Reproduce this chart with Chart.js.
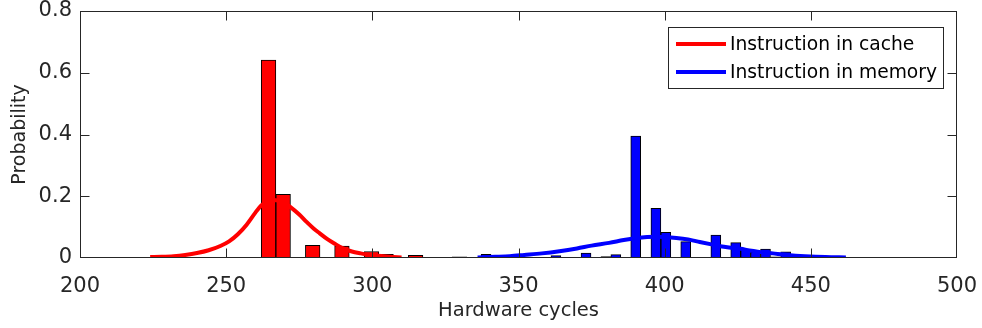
<!DOCTYPE html>
<html><head><meta charset="utf-8">
<script src="https://cdn.jsdelivr.net/npm/chart.js@4/dist/chart.umd.min.js"></script>
<style>html,body{margin:0;padding:0;background:#fff;overflow:hidden}#wrap{width:982px;height:328px;position:relative}</style>
</head><body><div id="wrap"><canvas id="c" width="982" height="328"></canvas></div>
<script>
// ---- data ----
const xTickValues = [200, 250, 300, 350, 400, 450, 500];
const yTickValues = [0, 0.2, 0.4, 0.6, 0.8];
const seriesLabels = ['Instruction in cache', 'Instruction in memory'];
const xAxisTitle = 'Hardware cycles';
const yAxisTitle = 'Probability';

const cacheBinCenters = [264.5, 269.5, 274.5, 279.6, 284.6, 289.6, 294.6, 299.7, 304.7, 309.7, 314.8, 319.8, 324.8, 329.8];
const cacheProb       = [0.641, 0.206, 0,     0.041, 0,     0.039, 0,     0.021, 0.012, 0.002, 0.009, 0.002, 0.002, 0.004];

const memoryBinCenters = [338.9, 342.3, 345.7, 349.1, 352.6, 356.0, 359.4, 362.8, 366.2, 369.7, 373.1, 376.5, 379.9, 383.3, 386.7, 390.1, 393.5, 397.0, 400.4, 403.8, 407.2, 410.6, 414.0, 417.5, 420.9, 424.3, 427.7, 431.1, 434.5, 437.9, 441.4, 444.8, 448.2, 451.6, 455.0, 458.5, 461.9, 465.3, 468.7, 472.1, 475.5, 479.0, 482.4, 485.8];
const memoryProb       = [0.012, 0.003, 0,     0,     0,     0,     0,     0.008, 0,     0,     0.016, 0,     0.005, 0.011, 0,     0.395, 0,     0.161, 0.083, 0,     0.053, 0,     0,     0.074, 0,     0.050, 0.028, 0.018, 0.029, 0.004, 0.020, 0,     0,     0,     0,     0,     0,     0,     0.002, 0,     0,     0,     0,     0.002];

const cacheFitX = [224, 228, 232, 236, 240, 244, 248, 251, 254, 257, 260, 262, 264, 266, 268, 270, 272, 275, 277.5, 280, 282, 284.5, 287, 290, 293, 296, 299, 302, 306, 310];
const cacheFitY = [0.003, 0.004, 0.006, 0.010, 0.016, 0.025, 0.039, 0.054, 0.077, 0.108, 0.147, 0.170, 0.183, 0.188, 0.186, 0.178, 0.165, 0.141, 0.117, 0.095, 0.080, 0.062, 0.047, 0.031, 0.021, 0.015, 0.010, 0.007, 0.004, 0.002];

const memoryFitX = [336, 342, 347, 352, 358, 364, 370, 375, 381, 386, 390, 394, 397, 400, 404, 408, 412, 416, 419, 422, 426, 429, 433, 437, 442, 448, 455, 462];
const memoryFitY = [0.002, 0.004, 0.006, 0.010, 0.015, 0.022, 0.031, 0.040, 0.049, 0.058, 0.064, 0.068, 0.069, 0.068, 0.065, 0.060, 0.052, 0.044, 0.038, 0.034, 0.030, 0.024, 0.019, 0.015, 0.010, 0.006, 0.003, 0.002];

// ---- styling ----
const FONT = 'DejaVu Sans';
const INK = '#262626';
const RED = '#ff0000';
const BLUE = '#0000ff';

const pts = (xs, ys) => xs.map((x, i) => ({ x: x, y: ys[i] }));
const fixTicks = vals => scale => { scale.ticks = vals.map(v => ({ value: v })); };

const framePlugin = {
  id: 'frame',
  afterDatasetsDraw(chart) {
    const { ctx, chartArea: a, scales: { x, y } } = chart;
    ctx.save();
    ctx.strokeStyle = INK;
    ctx.lineWidth = 1;
    const L = Math.round(a.left) + 0.5, R = Math.round(a.right) - 0.5;
    const T = Math.round(a.top) + 0.5, B = Math.round(a.bottom) - 0.5;
    ctx.strokeRect(L, T, R - L, B - T);
    const len = 9;
    ctx.beginPath();
    x.ticks.forEach(t => {
      const px = Math.min(Math.round(x.getPixelForValue(t.value)) + 0.5, R);
      ctx.moveTo(px, B); ctx.lineTo(px, B - len);
      ctx.moveTo(px, T); ctx.lineTo(px, T + len);
    });
    y.ticks.forEach(t => {
      const py = Math.min(Math.max(Math.round(y.getPixelForValue(t.value)) + 0.5, T), B);
      ctx.moveTo(L, py); ctx.lineTo(L + len, py);
      ctx.moveTo(R, py); ctx.lineTo(R - len, py);
    });
    ctx.stroke();
    ctx.restore();
  }
};

const legendPlugin = {
  id: 'insideLegend',
  afterDraw(chart) {
    const { ctx, chartArea: a } = chart;
    const items = chart.data.datasets.filter(d => d.type === 'line');
    const fs = 18.7;
    ctx.save();
    ctx.font = fs + 'px "' + FONT + '"';
    const tw = Math.max.apply(null, items.map(d => ctx.measureText(d.label).width));
    const lineLen = 50, padL = 8, gap = 4, padR = 7;
    const w = padL + lineLen + gap + tw + padR;
    const h = 61;
    const right = Math.round(a.right) - 13;
    const left = Math.round(right - w);
    const top = Math.round(a.top) + 16;
    ctx.fillStyle = '#fff';
    ctx.fillRect(left, top, right - left, h);
    ctx.strokeStyle = INK;
    ctx.lineWidth = 1;
    ctx.strokeRect(left + 0.5, top + 0.5, right - left - 1, h);
    items.forEach((d, i) => {
      const cy = top + 17 + i * 28;
      ctx.strokeStyle = d.borderColor;
      ctx.lineWidth = 4;
      ctx.beginPath();
      ctx.moveTo(left + padL, cy);
      ctx.lineTo(left + padL + lineLen, cy);
      ctx.stroke();
      ctx.fillStyle = '#000';
      ctx.textBaseline = 'middle';
      ctx.textAlign = 'left';
      ctx.fillText(d.label, left + padL + lineLen + gap, cy + 1);
    });
    ctx.restore();
  }
};

const ctx = document.getElementById('c').getContext('2d');
new Chart(ctx, {
  type: 'bar',
  data: {
    datasets: [
      { type: 'line', label: seriesLabels[0], data: pts(cacheFitX, cacheFitY), borderColor: RED, borderWidth: 4, pointRadius: 0, fill: false, cubicInterpolationMode: 'monotone', xAxisID: 'x', order: 1 },
      { type: 'line', label: seriesLabels[1], data: pts(memoryFitX, memoryFitY), borderColor: BLUE, borderWidth: 4, pointRadius: 0, fill: false, cubicInterpolationMode: 'monotone', xAxisID: 'x', order: 1 },
      { type: 'bar', label: seriesLabels[0] + ' (histogram)', data: pts(cacheBinCenters, cacheProb), backgroundColor: RED, borderColor: '#000', borderWidth: 1, borderSkipped: false, barPercentage: 1, categoryPercentage: 1, grouped: false, xAxisID: 'x', order: 2 },
      { type: 'bar', label: seriesLabels[1] + ' (histogram)', data: pts(memoryBinCenters, memoryProb), backgroundColor: BLUE, borderColor: '#000', borderWidth: 1, borderSkipped: false, barPercentage: 1, categoryPercentage: 1, grouped: false, xAxisID: 'x2', order: 2 }
    ]
  },
  options: {
    responsive: false,
    animation: false,
    devicePixelRatio: 1,
    layout: { padding: { top: 11, right: 25, left: 0, bottom: 0 } },
    plugins: { legend: { display: false }, tooltip: { enabled: false } },
    scales: {
      x: {
        type: 'linear', position: 'bottom', min: 200, max: 500, offset: false,
        grid: { display: false, drawTicks: false, offset: false }, border: { display: false },
        afterBuildTicks: fixTicks(xTickValues),
        afterFit(s) { s.height = 70; s.paddingLeft = 0; s.paddingRight = 0; },
        ticks: { font: { family: FONT, size: 21 }, color: INK, padding: 16, maxRotation: 0, autoSkip: false },
        title: { display: true, text: xAxisTitle, font: { family: FONT, size: 19.5 }, color: INK, padding: { top: 0, bottom: 5 } }
      },
      x2: { type: 'linear', position: 'bottom', display: false, min: 200, max: 500, offset: false, grid: { offset: false } },
      y: {
        type: 'linear', min: 0, max: 0.8,
        grid: { display: false, drawTicks: false }, border: { display: false },
        afterBuildTicks: fixTicks(yTickValues),
        afterFit(s) { s.width = 80; s.paddingTop = 0; s.paddingBottom = 0; },
        ticks: { font: { family: FONT, size: 21 }, color: INK, padding: 8 },
        title: { display: true, text: yAxisTitle, font: { family: FONT, size: 19 }, color: INK, padding: { top: 9, bottom: 0 } }
      }
    }
  },
  plugins: [framePlugin, legendPlugin]
});
</script>
</body></html>
